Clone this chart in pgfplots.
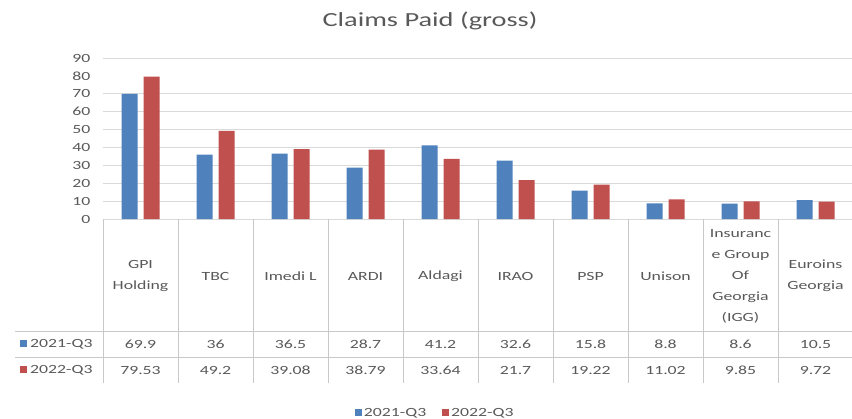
\documentclass[border=0pt]{standalone}
\usepackage{fontspec}
\setmainfont{Carlito}[FakeStretch=1.42]
\usepackage{pgfplots}
\pgfplotsset{compat=1.18}
\usepackage{pgfplotstable}

\definecolor{qblue}{HTML}{4F81BD}
\definecolor{qred}{HTML}{C0504D}
\definecolor{txt}{HTML}{595959}
\definecolor{gridc}{HTML}{D9D9D9}
\definecolor{tline}{HTML}{C8C8C8}

% claims paid (gross), by insurer
\pgfplotstableread{
idx q2021 q2022
0   69.9  79.53
1   36    49.2
2   36.5  39.08
3   28.7  38.79
4   41.2  33.64
5   32.6  21.7
6   15.8  19.22
7   8.8   11.02
8   8.6   9.85
9   10.5  9.72
}\claims

\newcommand{\tabfont}{\fontsize{12.5}{21}\selectfont}

\begin{document}
\begin{tikzpicture}[x=1pt,y=1pt]
\path[use as bounding box] (0,0) rectangle (852,418);

\node[text=txt, font=\fontsize{20}{24}\selectfont] at (430,397) {Claims Paid (gross)};

\begin{axis}[
  at={(103pt,199pt)}, anchor=south west,
  scale only axis, width=750pt, height=161pt,
  clip=false,
  ybar=6pt, bar width=16pt,
  xmin=-0.5, xmax=9.5, ymin=0, ymax=90,
  xtick={0,...,9},
  xticklabels={{GPI\\Holding}, TBC, Imedi L, ARDI, Aldagi, IRAO, PSP, Unison,
    {Insuranc\\e Group\\Of\\Georgia\\(IGG)}, {Euroins\\Georgia}},
  xticklabel style={align=center, anchor=center, yshift=-57pt, font=\tabfont, text=txt},
  ytick={0,10,...,70,90},
  extra y ticks={80},
  extra y tick style={ymajorgrids=false},
  ymajorgrids,
  grid style={gridc, line width=0.8pt},
  major tick length=0pt,
  yticklabel style={font=\fontsize{12.5}{14}\selectfont, text=txt, xshift=-9pt},
  /pgf/number format/assume math mode=true,
  axis line style={draw=none},
  legend style={draw=none, fill=none, at={(0.443,-1.205)}, anchor=center,
    legend columns=2, font=\fontsize{12.5}{14}\selectfont, text=txt,
    /tikz/every even column/.append style={column sep=14pt}},
  legend image code/.code={\fill[#1] (0pt,-3.5pt) rectangle (7pt,3.5pt);},
]
\addplot[fill=qblue, draw=none] table[x=idx, y=q2021] {\claims};
\addplot[fill=qred, draw=none] table[x=idx, y=q2022] {\claims};
\legend{2021-Q3, 2022-Q3}
\end{axis}

% data table under the chart
\foreach \i in {0,...,10} \draw[tline, line width=0.8pt] (103+75*\i,199) -- (103+75*\i,35);
\draw[tline, line width=0.8pt] (15,87) -- (852,87);
\draw[tline, line width=0.8pt] (15,61) -- (852,61);

\fill[qblue] (20,70.5) rectangle (27,77.5);
\node[anchor=west, text=txt, font=\tabfont, inner sep=0pt] at (30,74) {2021-Q3};
\fill[qred] (20,44.5) rectangle (27,51.5);
\node[anchor=west, text=txt, font=\tabfont, inner sep=0pt] at (30,48) {2022-Q3};

\foreach \v [count=\i from 0] in {69.9,36,36.5,28.7,41.2,32.6,15.8,8.8,8.6,10.5}
  \node[text=txt, font=\tabfont] at (140.5+75*\i,74) {\v};
\foreach \v [count=\i from 0] in {79.53,49.2,39.08,38.79,33.64,21.7,19.22,11.02,9.85,9.72}
  \node[text=txt, font=\tabfont] at (140.5+75*\i,48) {\v};
\end{tikzpicture}
\end{document}
